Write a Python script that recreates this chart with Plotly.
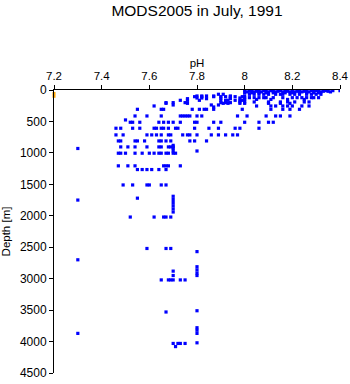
import plotly.graph_objects as go

# Depth levels [m] and the pH values observed at each level
levels = [10, 20, 30, 45, 68, 95, 106, 122, 127, 138, 150, 164, 190, 201, 212, 238, 254, 270,
          307, 413, 476, 513, 608, 714, 810, 880, 905, 930, 970, 1005, 1206, 1265, 1510,
          1690, 1720, 1740, 1750, 1790, 1840, 1890, 1940, 2020, 2520, 2570, 2700,
          2810, 2860, 2880, 2910, 2950, 3020, 3510, 3530, 3780, 3820, 3870, 4020, 4030, 4080]

ph_at_level = [
    [8.00, 8.03, 8.06, 8.08, 8.11, 8.15, 8.17, 8.20, 8.23, 8.26, 8.28, 8.30, 8.34, 8.37, 8.40],
    [8.02, 8.05, 8.09, 8.12, 8.14, 8.18, 8.22, 8.25, 8.29, 8.31, 8.33, 8.35],
    [8.01, 8.04, 8.07, 8.10, 8.13, 8.16, 8.19, 8.21, 8.24, 8.27, 8.32, 8.36],
    [8.00, 8.03, 8.06, 8.09, 8.12, 8.17, 8.20, 8.23, 8.26, 8.29, 8.31],
    [7.89, 7.91, 8.02, 8.04, 8.06, 8.08, 8.10, 8.13, 8.15, 8.16, 8.19, 8.21, 8.23, 8.26, 8.28, 8.30, 8.32],
    [7.80, 7.82, 7.84, 7.87, 7.94, 8.00],
    [7.79, 7.82, 7.87, 7.90, 7.92, 7.94, 7.96, 7.99],
    [8.02, 8.04, 8.06, 8.08, 8.09, 8.12, 8.16, 8.20, 8.22, 8.24, 8.26, 8.28, 8.29, 8.31],
    [7.80, 7.82, 7.90, 7.94, 7.98, 8.00],
    [7.76, 7.84, 7.94],
    [8.00, 8.05, 8.11, 8.18, 8.25],
    [7.73, 7.76, 7.81, 7.90, 7.92, 7.93, 7.96, 7.98, 7.99],
    [7.98, 8.00, 8.04, 8.10, 8.15, 8.18, 8.21, 8.25, 8.27],
    [7.67, 7.70, 7.75, 7.90, 7.92, 7.94],
    [7.67, 7.76, 7.91, 7.93, 7.98, 8.00, 8.10, 8.15, 8.19],
    [7.70, 7.86, 7.89],
    [7.62, 8.05, 8.11, 8.13, 8.16, 8.18, 8.20, 8.24, 8.27],
    [7.87],
    [7.55, 7.65, 7.66, 7.78, 7.81, 7.83, 7.84, 7.87, 7.99, 8.11, 8.16, 8.19, 8.23],
    [7.54, 7.59, 7.65, 7.73, 7.74, 7.75, 7.76, 7.77, 7.80, 7.82, 7.97, 8.01, 8.09, 8.13, 8.15, 8.19],
    [7.50],
    [7.52, 7.53, 7.56, 7.64, 7.66, 7.68, 7.70, 7.73, 7.79, 7.80, 7.87, 7.90, 8.00, 8.06, 8.10, 8.12],
    [7.46, 7.48, 7.53, 7.56, 7.62, 7.63, 7.65, 7.66, 7.68, 7.71, 7.72, 7.79, 7.85, 7.89, 7.96, 7.98, 8.06],
    [7.46, 7.49, 7.59, 7.61, 7.63, 7.65, 7.68, 7.69, 7.74, 7.76, 7.77, 7.80, 7.86, 7.89, 7.92, 7.95, 7.97],
    [7.47, 7.48, 7.54, 7.55, 7.58, 7.64, 7.65, 7.67, 7.69, 7.77, 7.79, 7.84],
    [7.70],
    [7.48, 7.51, 7.54, 7.59, 7.64, 7.65, 7.68, 7.69, 7.70],
    [7.30, 7.70],
    [7.70, 7.80],
    [7.47, 7.48, 7.50, 7.54, 7.57, 7.60, 7.62, 7.64, 7.65, 7.67, 7.68, 7.70, 7.71],
    [7.47, 7.51, 7.54, 7.66, 7.67, 7.68, 7.73],
    [7.55, 7.57, 7.59, 7.61, 7.64, 7.67],
    [7.49, 7.53, 7.59, 7.60, 7.65, 7.67],
    [7.70], [7.55], [7.70], [7.30], [7.70], [7.70], [7.70], [7.70],
    [7.52, 7.62, 7.66, 7.67, 7.69],
    [7.59, 7.67, 7.69], [7.80], [7.30],
    [7.80], [7.80], [7.70], [7.80], [7.70, 7.80],
    [7.65, 7.68, 7.69, 7.70, 7.73, 7.75],
    [7.80], [7.67],
    [7.80], [7.80], [7.30, 7.80],
    [7.80], [7.70, 7.72, 7.73, 7.75], [7.71],
]

# Highlighted (orange) points at the left edge
orange_ph = [7.2, 7.2]
orange_depth = [55, 100]

ph = [p for lev, row in zip(levels, ph_at_level) for p in row]
depth = [lev for lev, row in zip(levels, ph_at_level) for _ in row]

FONT = "Liberation Sans, Arial, sans-serif"

fig = go.Figure()
fig.add_trace(go.Scatter(
    x=ph, y=depth, mode="markers",
    marker=dict(symbol="square", size=3.2, color="#0000FF", line=dict(width=0)),
    showlegend=False, hoverinfo="x+y",
))
fig.add_trace(go.Scatter(
    x=orange_ph, y=orange_depth, mode="markers",
    marker=dict(symbol="square", size=3, color="#FFA500", line=dict(width=0)),
    showlegend=False, cliponaxis=False,
))

fig.update_layout(
    width=350, height=384,
    margin=dict(l=54, r=10, t=90, b=11, autoexpand=False),
    paper_bgcolor="white", plot_bgcolor="white",
    font=dict(family=FONT, size=11, color="black"),
    title=dict(text="MODS2005 in July, 1991", x=0.5, xref="paper", xanchor="center",
               y=0.972, yref="container", yanchor="middle",
               font=dict(family=FONT, size=15.5, color="black")),
    xaxis=dict(
        title=dict(text="pH", standoff=0, font=dict(size=11.5)),
        side="top", range=[7.2, 8.4], dtick=0.2, tick0=7.2,
        tickfont=dict(size=11.5),
        showgrid=False, zeroline=False, showline=True, linecolor="black", linewidth=1,
        ticks="outside", ticklen=4, tickcolor="black", mirror=False, automargin=False,
    ),
    yaxis=dict(
        title=dict(text="Depth [m]", standoff=6, font=dict(size=11.5)),
        range=[4500, 0], dtick=500, tick0=0,
        tickfont=dict(size=12),
        showgrid=False, zeroline=False, showline=True, linecolor="black", linewidth=1,
        ticks="outside", ticklen=4, tickcolor="black", mirror=False, automargin=False,
    ),
)

fig.write_html("out.html")
